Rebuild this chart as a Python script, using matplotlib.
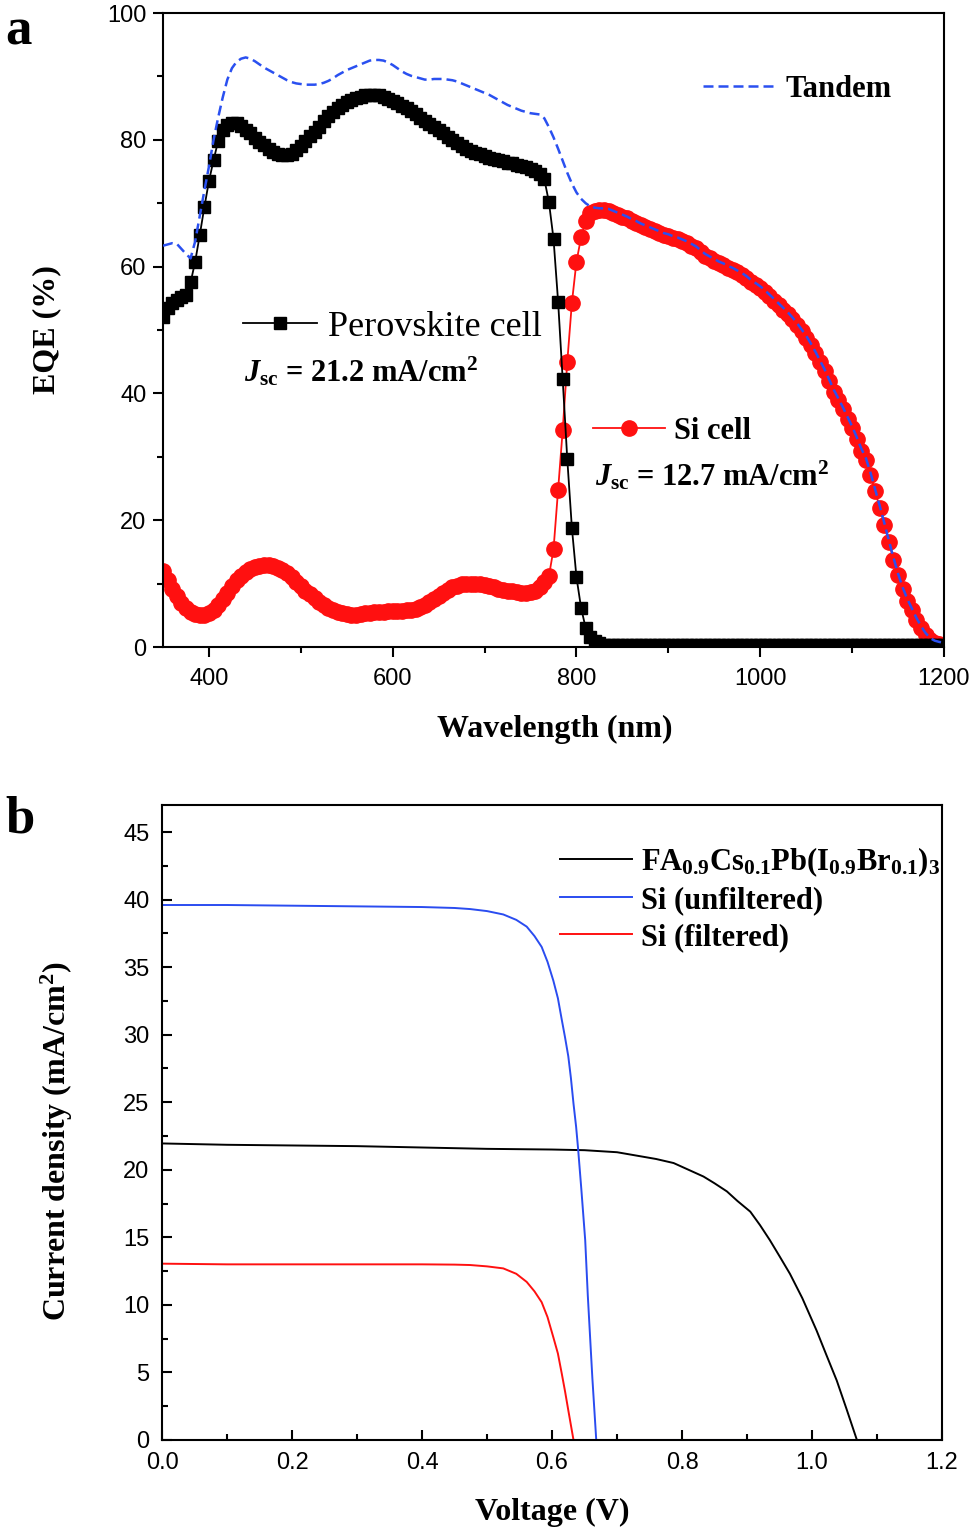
import numpy as np
import matplotlib
matplotlib.use("Agg")
import matplotlib.pyplot as plt
from matplotlib.lines import Line2D
from matplotlib.ticker import MultipleLocator

plt.rcParams['font.family'] = ['Liberation Sans', 'DejaVu Sans']
plt.rcParams['mathtext.fontset'] = 'custom'
plt.rcParams['mathtext.rm'] = 'Liberation Serif:bold'
plt.rcParams['mathtext.bf'] = 'Liberation Serif:bold'
plt.rcParams['mathtext.it'] = 'Liberation Serif:italic:bold'

SERIF = 'Liberation Serif'

# ---- panel a: EQE spectra, 5 nm steps from 350 to 1200 nm ----
wavelength = np.arange(350, 1201, 5)

eqe_perovskite = [
    52.1, 53.5, 54.3, 54.8, 55.2, 55.5, 57.5, 60.8, 65.0, 69.4,   # 350-395
    73.5, 76.8, 79.8, 81.6, 82.4, 82.6, 82.6, 82.2, 81.6, 81.0,   # 400-445
    80.3, 79.7, 79.2, 78.6, 78.1, 77.8, 77.6, 77.6, 77.8, 78.4,   # 450-495
    79.1, 79.8, 80.6, 81.3, 82.1, 82.9, 83.7, 84.4, 85.0, 85.5,   # 500-545
    85.9, 86.3, 86.6, 86.8, 87.0, 87.1, 87.1, 87.0, 86.8, 86.5,   # 550-595
    86.2, 85.8, 85.4, 85.0, 84.5, 84.0, 83.5, 83.0, 82.5, 82.0,   # 600-645
    81.5, 81.0, 80.5, 80.0, 79.5, 79.0, 78.6, 78.3, 78.0, 77.7,   # 650-695
    77.5, 77.2, 77.0, 76.8, 76.6, 76.4, 76.3, 76.1, 75.9, 75.7,   # 700-745
    75.4, 75.1, 74.6, 73.8, 70.2, 64.4, 54.5, 42.2, 29.6, 18.8,   # 750-795
    11.0, 6.2, 3.0, 1.6, 0.9, 0.6, 0.4, 0.4, 0.3, 0.3,            # 800-845
    0.3, 0.3, 0.3, 0.3, 0.3, 0.3, 0.3, 0.3, 0.3, 0.3,             # 850-895
    0.3, 0.3, 0.3, 0.3, 0.3, 0.3, 0.3, 0.3, 0.3, 0.3,             # 900-945
    0.3, 0.3, 0.3, 0.3, 0.3, 0.3, 0.3, 0.3, 0.3, 0.3,             # 950-995
    0.3, 0.3, 0.3, 0.3, 0.3, 0.3, 0.3, 0.3, 0.3, 0.3,             # 1000-1045
    0.3, 0.3, 0.3, 0.3, 0.3, 0.3, 0.3, 0.3, 0.3, 0.3,             # 1050-1095
    0.4, 0.3, 0.3, 0.3, 0.3, 0.3, 0.3, 0.3, 0.3, 0.3,             # 1100-1145
    0.3, 0.3, 0.3, 0.3, 0.3, 0.3, 0.3, 0.3, 0.3, 0.3,             # 1150-1195
    0.3,                                                          # 1200
]

eqe_si = [
    12.0, 10.6, 9.2, 8.0, 7.0, 6.2, 5.6, 5.2, 5.0, 5.0,           # 350-395
    5.3, 5.9, 6.7, 7.6, 8.6, 9.6, 10.5, 11.2, 11.8, 12.3,         # 400-445
    12.6, 12.8, 12.9, 12.9, 12.8, 12.5, 12.1, 11.6, 11.0, 10.3,   # 450-495
    9.6, 8.9, 8.3, 7.7, 7.1, 6.6, 6.2, 5.8, 5.5, 5.3,             # 500-545
    5.2, 5.1, 5.1, 5.2, 5.3, 5.4, 5.5, 5.6, 5.6, 5.7,             # 550-595
    5.7, 5.7, 5.7, 5.8, 5.9, 6.0, 6.3, 6.7, 7.1, 7.6,             # 600-645
    8.1, 8.6, 9.0, 9.4, 9.7, 9.9, 10.0, 10.0, 10.0, 9.9,          # 650-695
    9.8, 9.6, 9.4, 9.2, 9.0, 8.9, 8.8, 8.7, 8.6, 8.6,             # 700-745
    8.7, 8.9, 9.4, 10.2, 11.2, 15.4, 24.8, 34.2, 45.0, 54.3,      # 750-795
    60.8, 64.6, 67.2, 68.4, 68.8, 68.9, 68.9, 68.8, 68.5, 68.2,   # 800-845
    67.9, 67.6, 67.2, 66.9, 66.5, 66.2, 65.9, 65.6, 65.3, 65.0,   # 850-895
    64.8, 64.5, 64.3, 64.0, 63.7, 63.3, 62.9, 62.3, 61.7, 61.3,   # 900-945
    60.9, 60.5, 60.2, 59.8, 59.5, 59.1, 58.7, 58.2, 57.6, 57.1,   # 950-995
    56.6, 56.0, 55.3, 54.6, 53.9, 53.2, 52.5, 51.7, 50.8, 49.8,   # 1000-1045
    48.8, 47.6, 46.3, 44.9, 43.5, 41.9, 40.3, 38.9, 37.5, 36.0,   # 1050-1095
    34.5, 32.8, 31.0, 29.5, 27.2, 24.6, 22.0, 19.3, 16.5, 13.8,   # 1100-1145
    11.3, 9.1, 7.3, 5.8, 4.3, 3.0, 1.9, 1.1, 0.7, 0.5,            # 1150-1195
    0.4,                                                          # 1200
]

eqe_tandem = [
    63.3, 63.5, 63.7, 63.6, 62.8, 62.0, 61.3, 64.0, 68.0, 72.0,   # 350-395
    75.8, 80.0, 83.5, 86.7, 89.5, 91.3, 92.3, 92.8, 93.0, 92.8,   # 400-445
    92.4, 91.9, 91.4, 91.0, 90.6, 90.2, 89.8, 89.4, 89.1, 88.9,   # 450-495
    88.8, 88.7, 88.7, 88.7, 88.8, 89.0, 89.3, 89.7, 90.2, 90.6,   # 500-545
    91.0, 91.3, 91.6, 91.9, 92.2, 92.5, 92.6, 92.6, 92.5, 92.2,   # 550-595
    91.8, 91.3, 90.8, 90.4, 90.1, 89.9, 89.7, 89.5, 89.5, 89.6,   # 600-645
    89.6, 89.6, 89.5, 89.4, 89.2, 88.9, 88.6, 88.3, 88.0, 87.7,   # 650-695
    87.4, 87.1, 86.7, 86.3, 85.9, 85.5, 85.2, 84.9, 84.6, 84.4,   # 700-745
    84.2, 84.1, 84.0, 83.4, 82.0, 80.4, 78.6, 76.7, 74.8, 73.1,   # 750-795
    71.7, 70.7, 70.0, 69.5, 69.3, 69.2, 69.2, 69.1, 68.8, 68.5,   # 800-845
    68.2, 67.9, 67.5, 67.2, 66.8, 66.5, 66.2, 65.9, 65.6, 65.3,   # 850-895
    65.1, 64.8, 64.6, 64.3, 64.0, 63.6, 63.2, 62.6, 62.0, 61.6,   # 900-945
    61.2, 60.8, 60.5, 60.1, 59.8, 59.4, 59.0, 58.5, 57.9, 57.4,   # 950-995
    56.9, 56.3, 55.6, 54.9, 54.2, 53.5, 52.8, 52.0, 51.1, 50.1,   # 1000-1045
    49.1, 47.9, 46.6, 45.2, 43.8, 42.2, 40.6, 39.2, 37.8, 36.3,   # 1050-1095
    34.8, 33.1, 31.3, 29.8, 27.5, 24.9, 22.3, 19.6, 16.8, 14.1,   # 1100-1145
    11.6, 9.4, 7.6, 6.1, 4.6, 3.3, 2.2, 1.4, 1.0, 0.8,            # 1150-1195
    0.7,                                                          # 1200
]

# ---- panel b: J-V curves ----
v_pero = [0.0, 0.1, 0.2, 0.3, 0.4, 0.5, 0.6, 0.65, 0.7, 0.73, 0.76, 0.787,
          0.81, 0.833, 0.85, 0.869, 0.885, 0.905, 0.92, 0.935, 0.95, 0.966,
          0.985, 1.007, 1.022, 1.038, 1.053, 1.069]
j_pero = [21.95, 21.85, 21.8, 21.75, 21.65, 21.55, 21.5, 21.45, 21.3, 21.05,
          20.8, 20.5, 20.0, 19.5, 19.0, 18.4, 17.7, 16.9, 15.9, 14.8, 13.6,
          12.3, 10.5, 8.1, 6.3, 4.4, 2.3, 0.0]

v_si_unf = [0.0, 0.1, 0.2, 0.3, 0.4, 0.45, 0.474, 0.5, 0.525, 0.545, 0.561,
            0.573, 0.584, 0.593, 0.602, 0.609, 0.615, 0.62, 0.625, 0.629,
            0.633, 0.637, 0.64, 0.645, 0.651, 0.655, 0.662, 0.668, 0.75, 0.9]
j_si_unf = [39.6, 39.6, 39.55, 39.5, 39.45, 39.38, 39.3, 39.15, 38.9, 38.5,
            38.0, 37.3, 36.5, 35.4, 34.0, 32.7, 31.1, 29.8, 28.4, 26.8, 24.9,
            23.2, 21.6, 18.6, 14.8, 10.7, 4.6, 0.0, 0.0, 0.0]

v_si_f = [0.0, 0.1, 0.2, 0.3, 0.4, 0.45, 0.474, 0.5, 0.525, 0.545, 0.561,
          0.573, 0.584, 0.593, 0.602, 0.609, 0.615, 0.62, 0.625, 0.629, 0.633]
j_si_f = [13.05, 13.0, 13.0, 13.0, 13.0, 12.98, 12.95, 12.85, 12.7, 12.3,
          11.7, 11.0, 10.2, 9.1, 7.6, 6.4, 4.9, 3.6, 2.2, 1.1, 0.0]

BLACK = '#000000'
RED = '#ff1010'
BLUE_DASH = '#2a50f0'
BLUE = '#2a4cf0'

fig = plt.figure(figsize=(9.75, 15.34), dpi=100)

# ================= panel a =================
ax = fig.add_axes([0.1672, 0.5782, 0.8010, 0.4133])
l_si, = ax.plot(wavelength, eqe_si, '-o', color=RED, lw=1.3, ms=11,
                mec=RED, mfc=RED, zorder=2)
l_pe, = ax.plot(wavelength, eqe_perovskite, '-s', color=BLACK, lw=1.3, ms=9,
                zorder=3)
l_ta, = ax.plot(wavelength, eqe_tandem, '--', color=BLUE_DASH, lw=1.8,
                dashes=(4, 2), zorder=4)

ax.set_xlim(350, 1200)
ax.set_ylim(0, 100)
ax.set_xticks([400, 600, 800, 1000, 1200])
ax.xaxis.set_minor_locator(MultipleLocator(100))
ax.set_yticks([0, 20, 40, 60, 80, 100])
ax.yaxis.set_minor_locator(MultipleLocator(10))
ax.tick_params(which='both', direction='out', top=False, right=False,
               width=1.5, labelsize=17)
ax.tick_params(which='major', length=7)
ax.tick_params(which='minor', length=4)
ax.tick_params(axis='x', pad=8)
ax.tick_params(axis='y', pad=5)
for sp in ax.spines.values():
    sp.set_linewidth(1.5)

ax.set_xlabel('Wavelength (nm)', family=SERIF, weight='bold', size=23)
ax.set_ylabel('EQE (%)', family=SERIF, weight='bold', size=23)
ax.xaxis.set_label_coords(0.502, -0.107)
ax.yaxis.set_label_coords(-0.13, 0.5)

leg_kw = dict(frameon=False, borderpad=0, borderaxespad=0, handletextpad=0.3,
              loc='center left', numpoints=1)
leg_t = ax.legend([l_ta], ['Tandem'], bbox_to_anchor=(0.6914, 0.880),
                  handlelength=2.4,
                  prop=dict(family=SERIF, weight='bold', size=22), **leg_kw)
ax.add_artist(leg_t)
h_pe = Line2D([], [], color=BLACK, lw=1.3, marker='s', ms=9)
leg_p = ax.legend([h_pe], ['Perovskite cell'], bbox_to_anchor=(0.1024, 0.505),
                  handlelength=2.05,
                  prop=dict(family=SERIF, size=26), **leg_kw)
ax.add_artist(leg_p)
h_si = Line2D([], [], color=RED, lw=1.3, marker='o', ms=11)
ax.legend([h_si], ['Si cell'], bbox_to_anchor=(0.5506, 0.3407),
          handlelength=2.35,
          prop=dict(family=SERIF, weight='bold', size=22), **leg_kw)

ax.text(438, 43.5, r'$J_{\mathrm{sc}}$ = 21.2 mA/cm$^2$', family=SERIF,
        weight='bold', size=22, va='center', ha='left')
ax.text(820, 27.0, r'$J_{\mathrm{sc}}$ = 12.7 mA/cm$^2$', family=SERIF,
        weight='bold', size=22, va='center', ha='left')

# ================= panel b =================
bx = fig.add_axes([0.1662, 0.0613, 0.8000, 0.4139])
bx.plot(v_pero, j_pero, color=BLACK, lw=1.4,
        label=r'FA$_{0.9}$Cs$_{0.1}$Pb(I$_{0.9}$Br$_{0.1}$)$_3$')
bx.plot(v_si_unf, j_si_unf, color=BLUE, lw=1.4, label='Si (unfiltered)')
bx.plot(v_si_f, j_si_f, color=RED, lw=1.4, label='Si (filtered)')

bx.set_xlim(0, 1.2)
bx.set_ylim(0, 47)
bx.xaxis.set_major_locator(MultipleLocator(0.2))
bx.xaxis.set_minor_locator(MultipleLocator(0.1))
bx.set_yticks(np.arange(0, 46, 5))
bx.yaxis.set_minor_locator(MultipleLocator(2.5))
bx.tick_params(which='both', direction='in', top=False, right=False,
               width=1.5, labelsize=17)
bx.tick_params(which='major', length=7)
bx.tick_params(which='minor', length=4)
bx.tick_params(axis='x', pad=9)
bx.tick_params(axis='y', pad=9)
for sp in bx.spines.values():
    sp.set_linewidth(1.5)

bx.set_xlabel('Voltage (V)', family=SERIF, weight='bold', size=23)
bx.set_ylabel('Current density (mA/cm$^2$)', family=SERIF, weight='bold', size=23)
bx.xaxis.set_label_coords(0.5, -0.092)
bx.yaxis.set_label_coords(-0.112, 0.47)

bx.legend(loc='center left', bbox_to_anchor=(0.51, 0.853), frameon=False,
          borderpad=0, borderaxespad=0, handlelength=2.35, handletextpad=0.3,
          labelspacing=0.25, prop=dict(family=SERIF, weight='bold', size=22))

fig.text(0.005, 0.9707, 'a', family=SERIF, weight='bold', size=38,
         ha='left', va='baseline')
fig.text(0.005, 0.457, 'b', family=SERIF, weight='bold', size=38,
         ha='left', va='baseline')

fig.savefig('out.png', dpi=100)
